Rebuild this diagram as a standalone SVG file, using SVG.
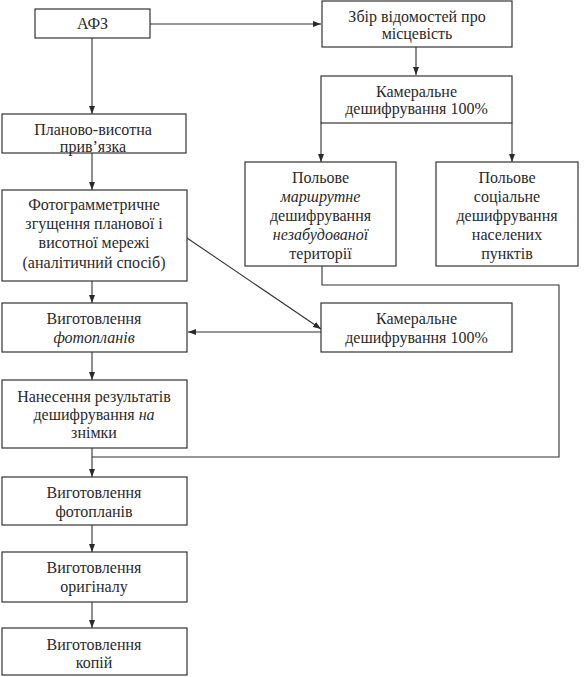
<svg xmlns="http://www.w3.org/2000/svg" width="586" height="677" viewBox="0 0 586 677">
<defs>
<marker id="ah" markerWidth="8" markerHeight="6" refX="8" refY="3" orient="auto" markerUnits="userSpaceOnUse">
<path d="M0,0 L8,3 L0,6 z" fill="#2a2a2a"/>
</marker>
<style>
rect{fill:#fff;stroke:#333;stroke-width:1.2}
text{font-family:'Liberation Serif',serif;font-size:16px;fill:#2a2a2a;text-anchor:middle}
.it{font-style:italic}
#connectors path{fill:none;stroke:#333;stroke-width:1.1}
</style>
</defs>
<rect x="0" y="0" width="586" height="677" style="fill:#fff;stroke:none"/>
<g id="connectors">
<path d="M150,24 H321" marker-end="url(#ah)"/>
<path d="M92,38 V114" marker-end="url(#ah)"/>
<path d="M416,47 V75" marker-end="url(#ah)"/>
<path d="M321,123 V162" marker-end="url(#ah)"/>
<path d="M512,123 V162" marker-end="url(#ah)"/>
<path d="M92,153 V190" marker-end="url(#ah)"/>
<path d="M92,281 V303" marker-end="url(#ah)"/>
<path d="M187,238 L321,329" marker-end="url(#ah)"/>
<path d="M321,332 H188" marker-end="url(#ah)"/>
<path d="M92,352 V380" marker-end="url(#ah)"/>
<path d="M322,266 V285 H559 V457 H92"/>
<path d="M92,448 V477" marker-end="url(#ah)"/>
<path d="M92,525 V552" marker-end="url(#ah)"/>
<path d="M92,602 V628" marker-end="url(#ah)"/>
</g>
<g id="n-afz"><rect x="35" y="9" width="115" height="29"/><text x="92.5" y="29">АФЗ</text></g>
<g id="n-zbir"><rect x="322" y="1" width="190" height="46"/><text x="417" y="22">Збір відомостей про</text><text x="417" y="39">місцевість</text></g>
<g id="n-kam1"><rect x="321" y="76" width="191" height="47"/><text x="416.5" y="97">Камеральне</text><text x="416.5" y="114">дешифрування 100%</text></g>
<g id="n-marsh"><rect x="245" y="162" width="151" height="104"/><text x="320.5" y="183">Польове</text><text class="it" x="320.5" y="202">маршрутне</text><text x="320.5" y="221">дешифрування</text><text class="it" x="320.5" y="240">незабудованої</text><text x="320.5" y="259">території</text></g>
<g id="n-soc"><rect x="436" y="162" width="142" height="104"/><text x="507" y="183">Польове</text><text x="507" y="202">соціальне</text><text x="507" y="221">дешифрування</text><text x="507" y="240">населених</text><text x="507" y="259">пунктів</text></g>
<g id="n-plan"><rect x="2" y="114" width="184" height="39"/><text x="93" y="135">Планово-висотна</text><text x="93" y="152">прив’язка</text></g>
<g id="n-foto"><rect x="2" y="190" width="185" height="91"/><text x="94" y="210">Фотограмметричне</text><text x="94" y="229">згущення планової і</text><text x="94" y="248">висотної мережі</text><text x="94" y="268">(аналітичний спосіб)</text></g>
<g id="n-fp1"><rect x="2" y="303" width="185" height="49"/><text x="94" y="324">Виготовлення</text><text class="it" x="94" y="343">фотопланів</text></g>
<g id="n-kam2"><rect x="321" y="303" width="191" height="49"/><text x="416.5" y="324">Камеральне</text><text x="416.5" y="343">дешифрування 100%</text></g>
<g id="n-nan"><rect x="2" y="380" width="185" height="68"/><text x="94" y="402">Нанесення результатів</text><text x="94" y="420">дешифрування <tspan class="it">на</tspan></text><text x="94" y="438">знімки</text></g>
<g id="n-fp2"><rect x="2" y="477" width="185" height="48"/><text x="94" y="498">Виготовлення</text><text x="94" y="517">фотопланів</text></g>
<g id="n-orig"><rect x="2" y="552" width="185" height="50"/><text x="94" y="573">Виготовлення</text><text x="94" y="592">оригіналу</text></g>
<g id="n-kop"><rect x="2" y="628" width="185" height="47"/><text x="94" y="650">Виготовлення</text><text x="94" y="668">копій</text></g>
</svg>
